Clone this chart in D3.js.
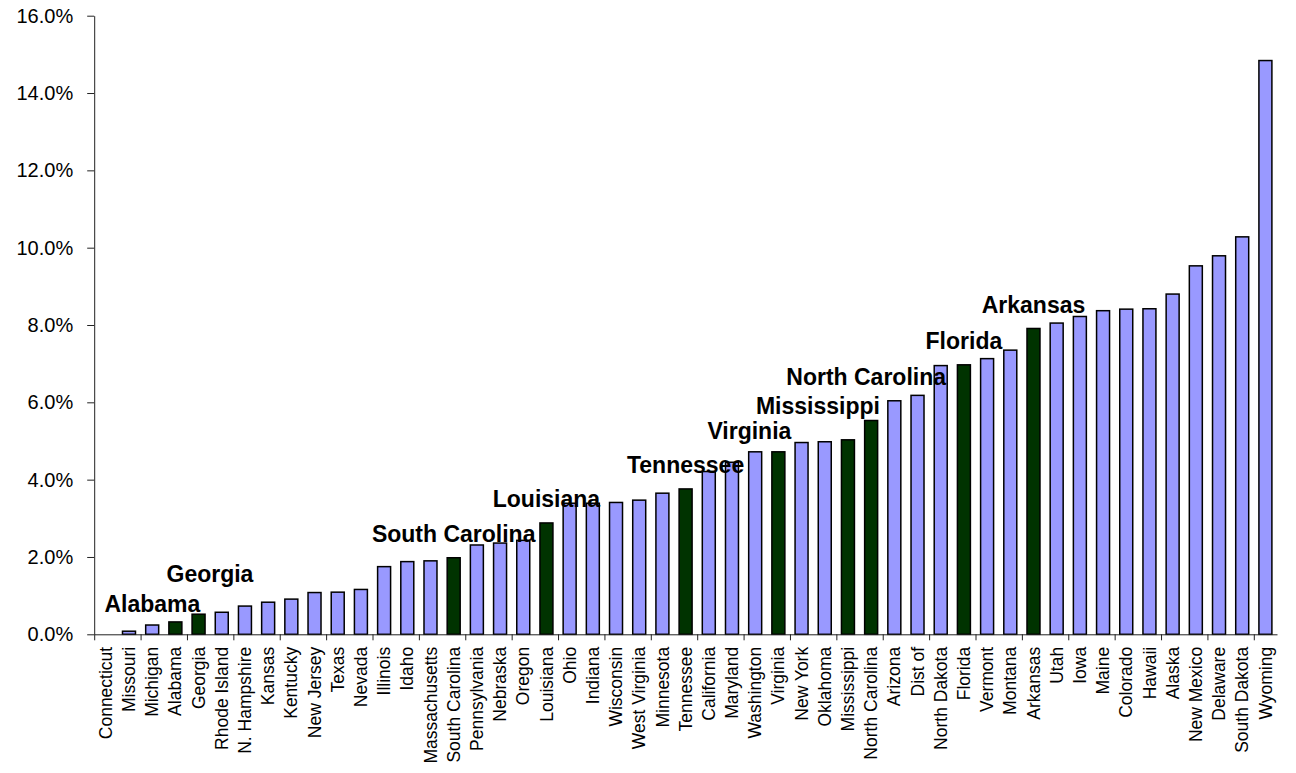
<!DOCTYPE html>
<html>
<head>
<meta charset="utf-8">
<script src="https://cdn.jsdelivr.net/npm/d3@7"></script>
<style>
  html, body { margin: 0; padding: 0; background: #fff; }
  svg { display: block; font-family: "Liberation Sans", Arial, sans-serif; }
</style>
</head>
<body>
<svg id="chart" width="1296" height="773"></svg>
<script>
const states = ["Connecticut","Missouri","Michigan","Alabama","Georgia","Rhode Island","N. Hampshire","Kansas","Kentucky","New Jersey","Texas","Nevada","Illinois","Idaho","Massachusetts","South Carolina","Pennsylvania","Nebraska","Oregon","Louisiana","Ohio","Indiana","Wisconsin","West Virginia","Minnesota","Tennessee","California","Maryland","Washington","Virginia","New York","Oklahoma","Mississippi","North Carolina","Arizona","Dist of","North Dakota","Florida","Vermont","Montana","Arkansas","Utah","Iowa","Maine","Colorado","Hawaii","Alaska","New Mexico","Delaware","South Dakota","Wyoming"];
const values = [0.0,0.08,0.24,0.32,0.52,0.57,0.73,0.83,0.91,1.08,1.09,1.16,1.75,1.88,1.90,1.98,2.31,2.36,2.43,2.88,3.39,3.39,3.41,3.47,3.65,3.76,4.21,4.45,4.72,4.72,4.96,4.98,5.03,5.53,6.04,6.18,6.95,6.97,7.13,7.35,7.91,8.05,8.22,8.37,8.41,8.42,8.80,9.53,9.79,10.28,14.84];
const highlighted = ["Alabama","Georgia","South Carolina","Louisiana","Tennessee","Virginia","Mississippi","North Carolina","Florida","Arkansas"];
const yTicks = [0,2,4,6,8,10,12,14,16];

// label placement offsets (pixels) relative to bar centre / bar top
const labelOffset = {
  "Alabama": [-23, -10],
  "Georgia": [11.4, -32],
  "Virginia": [-29, -12.5],
  "Mississippi": [-30, -25.5],
  "North Carolina": [-5, -35.5]
};
const defaultOffset = [0, -15.5];

const svg = d3.select("#chart");
const mLeft = 94.2, mRight = 1277, mTop = 15.7, mBottom = 634.3;

const x = d3.scaleBand().domain(states).range([mLeft, mRight])
  .paddingInner(0.44).paddingOuter(0.22);
const xb = d3.scaleLinear().domain([0, states.length]).range([mLeft, mRight]);
const y = d3.scaleLinear().domain([0, 16]).range([mBottom, mTop]);

const data = states.map((s, i) => ({state: s, value: values[i], hl: highlighted.includes(s)}));

// bars
svg.append("g").selectAll("rect").data(data).join("rect")
  .attr("x", d => x(d.state))
  .attr("width", x.bandwidth())
  .attr("y", d => y(d.value))
  .attr("height", d => y(0) - y(d.value))
  .attr("fill", d => d.hl ? "#003300" : "#9999FF")
  .attr("stroke", "#000")
  .attr("stroke-width", 1.5)
  .attr("visibility", d => d.value > 0 ? "visible" : "hidden");

// y axis
const yAxis = svg.append("g").attr("transform", `translate(${mLeft},0)`)
  .call(d3.axisLeft(y).tickValues(yTicks).tickFormat(d => d.toFixed(1) + "%")
    .tickSize(7).tickSizeOuter(0).tickPadding(14));
yAxis.attr("font-size", null).attr("font-family", null);
yAxis.selectAll("text")
  .style("font-size", "20px")
  .style("font-family", "'Liberation Sans', Arial, sans-serif")
  .attr("fill", "#000");
yAxis.selectAll("line, path").attr("stroke", "#222");

// x axis ticks (every other category boundary)
const xTickAxis = svg.append("g").attr("transform", `translate(0,${mBottom})`)
  .call(d3.axisBottom(xb).tickValues(d3.range(0, states.length, 2)).tickFormat("")
    .tickSize(6).tickSizeOuter(0));
xTickAxis.selectAll("line, path").attr("stroke", "#222");

// x axis labels
const xLab = svg.append("g").attr("transform", `translate(0,${mBottom})`)
  .call(d3.axisBottom(x).tickSize(0).tickSizeOuter(0));
xLab.attr("font-size", null).attr("font-family", null);
xLab.select(".domain").remove();
xLab.selectAll("text")
  .attr("transform", "rotate(-90)")
  .attr("text-anchor", "end")
  .attr("x", -12.5)
  .attr("y", 0)
  .attr("dy", "0.35em")
  .style("font-size", "17.5px")
  .style("font-family", "'Liberation Sans', Arial, sans-serif")
  .attr("fill", "#000");

// annotations
svg.append("g").selectAll("text").data(data.filter(d => d.hl)).join("text")
  .attr("x", d => x(d.state) + x.bandwidth() / 2 + (labelOffset[d.state] || defaultOffset)[0])
  .attr("y", d => y(d.value) + (labelOffset[d.state] || defaultOffset)[1])
  .attr("text-anchor", "middle")
  .style("font-size", "23px")
  .style("font-weight", "bold")
  .attr("fill", "#000")
  .text(d => d.state);
</script>
</body>
</html>
